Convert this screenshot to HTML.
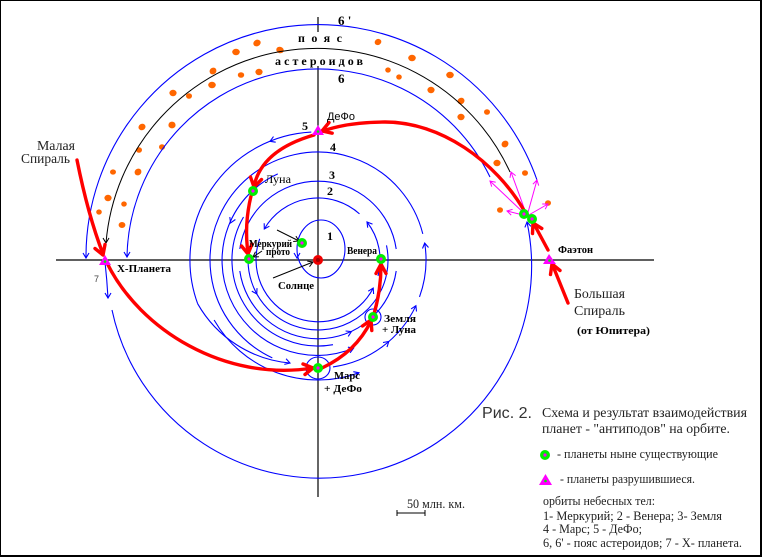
<!DOCTYPE html>
<html><head><meta charset="utf-8">
<style>html,body{margin:0;padding:0;background:#fff}svg{display:block}</style>
</head><body>
<svg width="762" height="557" viewBox="0 0 762 557" xmlns="http://www.w3.org/2000/svg">
<rect x="0" y="0" width="762" height="557" fill="#fff"/>
<!-- border -->
<rect x="0.5" y="0.5" width="760" height="555" fill="none" stroke="#000" stroke-width="1"/>
<rect x="760" y="0" width="2" height="557" fill="#000"/>
<rect x="0" y="555" width="762" height="2" fill="#000"/>

<!-- axes -->
<g stroke="#000" stroke-width="1.2" fill="none">
<line x1="56" y1="260" x2="654" y2="260"/>
<line x1="318" y1="17" x2="318" y2="32"/>
<line x1="318" y1="66" x2="318" y2="497"/>
</g>

<!-- orange asteroid blobs -->
<g fill="#ff6600">
<ellipse cx="257" cy="43" rx="3.8" ry="3.2" transform="rotate(-30 257 43)"/><ellipse cx="236" cy="52" rx="3.8" ry="3.2"/><ellipse cx="280" cy="50" rx="3.8" ry="3.2" transform="rotate(20 280 50)"/>
<ellipse cx="213" cy="71" rx="3.6" ry="3.2" transform="rotate(-40 213 71)"/><ellipse cx="241" cy="75" rx="3.2" ry="2.8"/><ellipse cx="259" cy="72" rx="3.6" ry="3.2"/>
<ellipse cx="212" cy="85" rx="3.8" ry="3.2"/><ellipse cx="173" cy="93" rx="3.6" ry="3.2"/><ellipse cx="189" cy="96" rx="3" ry="2.8"/>
<ellipse cx="142" cy="127" rx="3.6" ry="3.2" transform="rotate(-30 142 127)"/><ellipse cx="172" cy="125" rx="3.6" ry="3.4"/><ellipse cx="139" cy="150" rx="3" ry="2.8"/>
<ellipse cx="162" cy="147" rx="3" ry="2.8"/><ellipse cx="113" cy="172" rx="3" ry="2.6"/><ellipse cx="138" cy="172" rx="3.6" ry="3.2" transform="rotate(-40 138 172)"/>
<ellipse cx="108" cy="198" rx="3.6" ry="3.2"/><ellipse cx="124" cy="204" rx="2.8" ry="2.6"/><ellipse cx="99" cy="212" rx="2.8" ry="2.6"/>
<ellipse cx="122" cy="225" rx="3.4" ry="3"/>
<ellipse cx="378" cy="42" rx="3.4" ry="3" transform="rotate(-30 378 42)"/><ellipse cx="412" cy="58" rx="3.8" ry="3.2"/><ellipse cx="388" cy="70" rx="2.8" ry="2.6"/>
<ellipse cx="399" cy="77" rx="2.8" ry="2.6"/><ellipse cx="450" cy="75" rx="3.8" ry="3.2"/><ellipse cx="431" cy="90" rx="3.6" ry="3.2"/>
<ellipse cx="461" cy="101" rx="3.6" ry="3.2" transform="rotate(-30 461 101)"/><ellipse cx="487" cy="112" rx="3" ry="2.8"/><ellipse cx="461" cy="117" rx="3.6" ry="3.2"/>
<ellipse cx="505" cy="144" rx="3.6" ry="3.2" transform="rotate(-40 505 144)"/><ellipse cx="497" cy="163" rx="3.6" ry="3.2"/><ellipse cx="525" cy="173" rx="3" ry="2.8"/>
<ellipse cx="548" cy="203" rx="3" ry="2.8"/><ellipse cx="500" cy="210" rx="3" ry="2.8"/>
</g>

<!-- blue orbits -->
<g fill="none" stroke="#0000ff" stroke-width="1.1">
<path d="M537 180 A232 232 0 0 0 86 258"/>
<path d="M490 177 A191 191 0 0 0 127 257"/>
<path d="M105 262 Q107 280 108 298"/>
<path d="M112 310 A212 212 0 0 0 527 222"/>
<ellipse cx="321" cy="249" rx="24" ry="29"/>
<path d="M378 276 A62 62 0 0 0 367 222"/>
<path d="M359.5 213.9 A62 62 0 0 0 264.3 229"/>
<path d="M259.7 238.8 A62 62 0 0 0 373.2 288.1"/>
<path d="M248.3 253.9 A70 70 0 1 0 386.5 245.4"/>
<path d="M396.2 249 A79 79 0 0 0 239.8 249"/>
<path d="M239.8 271 A79 79 0 0 0 396.2 271"/>
<path d="M277.8 173.9 A95 95 0 0 0 353.6 348.1"/>
<path d="M243.5 217 A86 86 0 0 0 333 344.7"/>
<path d="M333 366.9 A108 108 0 0 0 415.9 305.7"/>
<path d="M419.5 296.9 A108 108 0 0 0 424.7 243.1"/>
<path d="M422.8 233.9 A108 108 0 1 0 272.3 357.9"/>
<path d="M214.1 320 A120 120 0 0 0 359 372.8"/>
<path d="M311.3 132.1 A128 128 0 0 0 197.7 303.8"/>
<path d="M197.7 303.8 A118 118 0 0 0 290 363"/>
<circle cx="373" cy="317" r="8"/>
<ellipse cx="318" cy="368" rx="12" ry="11"/>
<polyline points="83,253 86,258 89,253"/>
<polyline points="124,252 127,257 130,252"/>
<polyline points="105,293 108,298 111,293"/>
<polyline points="530.9,226.4 527,222 524.9,227.4"/>
<polyline points="372.5,224.1 367,222 367.7,227.7"/>
<polyline points="269.4,226.2 264.3,229 264.2,223.2"/>
<polyline points="368.2,291.2 373.2,288.1 373.6,294"/>
<polyline points="257,288.1 256.8,294 251.8,291.1"/>
<polyline points="345.6,331 351.4,331.6 348.2,336.4"/>
<polyline points="347.9,347.2 353.6,348.1 350.1,352.8"/>
<polyline points="235.4,219.5 230.6,222.9 229.8,217.1"/>
<polyline points="411.1,308.9 415.9,305.7 416.5,311.5"/>
<polyline points="383,342.5 388.8,341.5 387,347.1"/>
<polyline points="428.5,247.5 424.7,243.1 422.5,248.5"/>
<polyline points="275.7,142.2 270,141.3 273.5,136.6"/>
<polyline points="286.1,358.7 290,363 284.3,364.4"/>
<polyline points="294,253 297,258 300,253"/>
<polyline points="353.3,371.7 359,372.8 355.3,377.3"/>
</g>

<!-- black belt orbit -->
<g fill="none" stroke="#000" stroke-width="1">
<path d="M510 172 A212 212 0 0 0 106 243"/>
<polyline points="103,238 106,243 109,238"/>
<line x1="277" y1="230" x2="299" y2="241"/>
<polyline points="295.9,236.1 299,241 293.2,241.5"/>
<line x1="273" y1="278" x2="313" y2="262"/>
<polyline points="307.3,261.1 313,262 309.5,266.7"/>
<line x1="262" y1="251" x2="253" y2="257"/>
<polyline points="258.9,256.7 253,257 255.5,251.7"/>
<line x1="397" y1="513" x2="425" y2="513"/>
<line x1="397" y1="510" x2="397" y2="516"/>
<line x1="425" y1="510" x2="425" y2="516"/>
</g>

<!-- magenta arrows -->
<g fill="none" stroke="#ff00ff" stroke-width="1">
<line x1="527" y1="216" x2="490" y2="181"/><polyline points="491.7,186.6 490,181 495.7,182.2"/>
<line x1="527" y1="216" x2="511" y2="172"/><polyline points="510,177.8 511,172 515.6,175.6"/>
<line x1="527" y1="216" x2="537" y2="180"/><polyline points="532.9,184.2 537,180 538.7,185.6"/>
<line x1="527" y1="216" x2="507" y2="211"/><polyline points="511.2,215.1 507,211 512.6,209.3"/>
<line x1="527" y1="216" x2="548" y2="204"/><polyline points="542.2,204 548,204 545.2,209.2"/>
</g>

<!-- red arrows -->
<g fill="none" stroke="#ff0000" stroke-width="3.4" stroke-linecap="round" stroke-linejoin="round">
<path d="M525 212 C495 160 440 122 385 122 C360 122 340 125 323 131"/>
<polyline points="332.2,133.2 322,131 329,122.5"/>
<path d="M314 135 Q262 150 254 186"/>
<polyline points="261.5,179.5 254,187 250.5,177"/>
<path d="M251 196 Q244 225 248 253"/>
<polyline points="252,244 248,254 241.5,246"/>
<path d="M77 160 Q88 215 103 254"/>
<polyline points="105,244.5 103,255 95,248.5"/>
<path d="M107 263 C140 330 225 382 313 368"/>
<polyline points="303,364 313,368 305,374.5"/>
<path d="M322 368 Q356 352 371 321"/>
<polyline points="362.5,326 371,320 371.8,330.5"/>
<path d="M374 314 Q381 290 381 265"/>
<polyline points="376,273.5 381,264 386,273.5"/>
<path d="M568 303 L553 266"/>
<polyline points="550.5,274.5 552,264 560,270.5"/>
<path d="M548 250 L534 224"/>
<polyline points="532.5,233.5 533,223 541.8,228.5"/>
</g>

<!-- planets -->
<g>
<circle cx="318" cy="260" r="5" fill="#ee0000"/><circle cx="318" cy="260" r="2" fill="#a00000"/>
<g fill="#00ee00">
<circle cx="253" cy="191" r="5"/><circle cx="249" cy="259" r="5"/><circle cx="302" cy="243" r="5"/>
<circle cx="381" cy="259" r="5"/><circle cx="373" cy="317" r="5"/><circle cx="318" cy="368" r="5"/>
<circle cx="524" cy="214" r="5"/><circle cx="532" cy="219" r="5"/><circle cx="545" cy="455" r="5"/>
</g>
<g fill="#ff00ff">
<circle cx="253" cy="191" r="1.6"/><circle cx="249" cy="259" r="1.6"/><circle cx="302" cy="243" r="1.6"/>
<circle cx="381" cy="259" r="1.6"/><circle cx="373" cy="317" r="1.6"/><circle cx="318" cy="368" r="1.6"/>
<circle cx="524" cy="214" r="1.6"/><circle cx="532" cy="219" r="1.6"/><circle cx="545" cy="455" r="1.6"/>
<polygon points="318,125 312,135 324,135"/>
<polygon points="105,255 99,265 111,265"/>
<polygon points="549,254 543,264 556,264"/>
<polygon points="545.5,474 539,485 552,485"/>
</g>
<g fill="#00ee00">
<circle cx="318" cy="131.5" r="1.3"/><circle cx="105" cy="261.5" r="1.3"/><circle cx="549.5" cy="260.5" r="1.3"/><circle cx="545.5" cy="481" r="1.3"/>
</g>
</g>

<!-- labels -->
<g font-family="'Liberation Serif','DejaVu Serif',serif" fill="#000">
<text x="338" y="25" font-size="13" font-weight="bold">6 '</text>
<text x="298" y="42" font-size="12" font-weight="bold" textLength="44" lengthAdjust="spacing">пояс</text>
<text x="275" y="65" font-size="12" font-weight="bold" textLength="88" lengthAdjust="spacing">астероидов</text>
<text x="338" y="83" font-size="13" font-weight="bold">6</text>
<text x="302" y="130" font-size="12" font-weight="bold">5</text>
<text x="330" y="151" font-size="12" font-weight="bold">4</text>
<text x="329" y="179" font-size="12" font-weight="bold">3</text>
<text x="327" y="195" font-size="12" font-weight="bold">2</text>
<text x="327" y="240" font-size="12" font-weight="bold">1</text>
<text x="265" y="183" font-size="12" textLength="26" lengthAdjust="spacingAndGlyphs">Луна</text>
<text x="249" y="247" font-size="10" font-weight="bold" textLength="43" lengthAdjust="spacingAndGlyphs">Меркурий</text>
<text x="266" y="255" font-size="10" font-weight="bold" textLength="24" lengthAdjust="spacingAndGlyphs">прото</text>
<text x="347" y="254" font-size="10" font-weight="bold" textLength="30" lengthAdjust="spacingAndGlyphs">Венера</text>
<text x="278" y="289" font-size="11" font-weight="bold" textLength="36" lengthAdjust="spacingAndGlyphs">Солнце</text>
<text x="384" y="322" font-size="11" font-weight="bold" textLength="32" lengthAdjust="spacingAndGlyphs">Земля</text>
<text x="382" y="333" font-size="11" font-weight="bold" textLength="34" lengthAdjust="spacingAndGlyphs">+ Луна</text>
<text x="334" y="379" font-size="11" font-weight="bold" textLength="26" lengthAdjust="spacingAndGlyphs">Марс</text>
<text x="324" y="392" font-size="11" font-weight="bold" textLength="38" lengthAdjust="spacingAndGlyphs">+ ДеФо</text>
<text x="117" y="272" font-size="10" font-weight="bold" textLength="54" lengthAdjust="spacingAndGlyphs">Х-Планета</text>
<text x="558" y="253" font-size="10" font-weight="bold" textLength="35" lengthAdjust="spacingAndGlyphs">Фаэтон</text>
<text x="37" y="150" font-size="14" fill="#222" textLength="38" lengthAdjust="spacingAndGlyphs">Малая</text>
<text x="21" y="163" font-size="14" fill="#222" textLength="49" lengthAdjust="spacingAndGlyphs">Спираль</text>
<text x="574" y="298" font-size="14" fill="#222" textLength="51" lengthAdjust="spacingAndGlyphs">Большая</text>
<text x="574" y="315" font-size="14" fill="#222" textLength="51" lengthAdjust="spacingAndGlyphs">Спираль</text>
<text x="577" y="334" font-size="11" font-weight="bold" textLength="73" lengthAdjust="spacingAndGlyphs">(от Юпитера)</text>
<text x="542" y="417" font-size="14" fill="#222" textLength="205" lengthAdjust="spacingAndGlyphs">Схема и результат взаимодействия</text>
<text x="542" y="433" font-size="14" fill="#222" textLength="188" lengthAdjust="spacingAndGlyphs">планет - "антиподов" на орбите.</text>
<text x="557" y="458" font-size="12.5" fill="#222" textLength="161" lengthAdjust="spacingAndGlyphs">- планеты  ныне существующие</text>
<text x="560" y="483" font-size="12.5" fill="#222" textLength="135" lengthAdjust="spacingAndGlyphs">- планеты разрушившиеся.</text>
<text x="407" y="508" font-size="12.5" fill="#222" textLength="58" lengthAdjust="spacingAndGlyphs">50 млн. км.</text>
<text x="543" y="505" font-size="12.5" fill="#222" textLength="112" lengthAdjust="spacingAndGlyphs">орбиты небесных тел:</text>
<text x="543" y="520" font-size="12.5" fill="#222" textLength="179" lengthAdjust="spacingAndGlyphs">1- Меркурий;  2 - Венера; 3- Земля</text>
<text x="543" y="533" font-size="12.5" fill="#222" textLength="99" lengthAdjust="spacingAndGlyphs">4 - Марс; 5 - ДеФо;</text>
<text x="543" y="547" font-size="12.5" fill="#222" textLength="199" lengthAdjust="spacingAndGlyphs">6, 6' - пояс астероидов;  7 - Х- планета.</text>
</g>
<g font-family="'Liberation Sans','DejaVu Sans',sans-serif" fill="#000">
<text x="327" y="120" font-size="11" textLength="28" lengthAdjust="spacingAndGlyphs">ДеФо</text>
<text x="94" y="282" font-size="9" fill="#444">7</text>
<text x="482" y="418" font-size="16" fill="#333" textLength="50" lengthAdjust="spacingAndGlyphs">Рис. 2.</text>
</g>
</svg>
</body></html>
